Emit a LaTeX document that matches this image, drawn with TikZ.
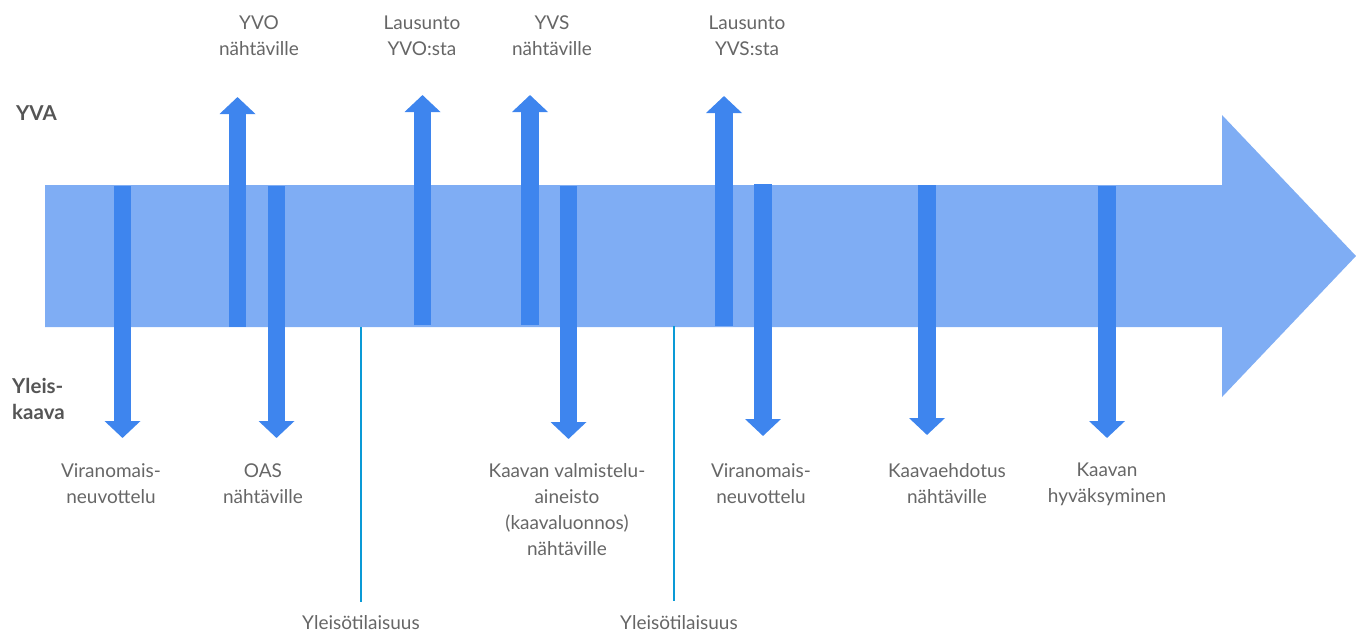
\documentclass[tikz,border=0pt]{standalone}
\usepackage{fontspec}
\setmainfont{Lato}
\usetikzlibrary{arrows.meta}
\definecolor{bodyblue}{HTML}{7FADF4}
\definecolor{arrowblue}{HTML}{3E85EE}
\definecolor{lineblue}{HTML}{0A9AD6}
\definecolor{txt}{HTML}{666666}
\definecolor{sidetxt}{HTML}{555555}
\begin{document}
\begin{tikzpicture}[x=1pt,y=-1pt,
  evt/.style={draw=arrowblue, line width=17.5pt, -{Triangle[width=35pt,length=17pt]}},
  meet/.style={draw=lineblue, line width=2.6pt},
  lbl/.style={text=txt, font=\fontsize{19}{26}\selectfont, align=center, inner sep=0pt},
  side/.style={text=sidetxt, font=\fontsize{20.5}{26}\selectfont\bfseries, align=left, inner sep=0pt, anchor=west}]
\useasboundingbox (0,0) rectangle (1356,633);
% main timeline arrow
\fill[bodyblue] (45,185) -- (1222,185) -- (1222,115) -- (1356,256) -- (1222,397) -- (1222,327) -- (45,327) -- cycle;
% side labels
\node[side] (yva) at (16,113) {YVA};
\node[side] (yk) at (12,399) {Yleis-\\kaava};
% up arrows (YVA)
\coordinate (u1s) at (237.5,327); \coordinate (u1e) at (237.5,97);
\coordinate (u2s) at (422.5,325); \coordinate (u2e) at (422.5,95);
\coordinate (u3s) at (530,325);   \coordinate (u3e) at (530,95);
\coordinate (u4s) at (724,326);   \coordinate (u4e) at (724,96);
\foreach \i in {1,...,4} {\draw[evt] (u\i s) -- (u\i e);}
% down arrows (Yleiskaava)
\coordinate (d1s) at (122.5,186); \coordinate (d1e) at (122.5,438);
\coordinate (d2s) at (276.5,186); \coordinate (d2e) at (276.5,438);
\coordinate (d3s) at (568.5,186); \coordinate (d3e) at (568.5,439);
\coordinate (d4s) at (763,184);   \coordinate (d4e) at (763,436);
\coordinate (d5s) at (927,185);   \coordinate (d5e) at (927,435);
\coordinate (d6s) at (1107,186);  \coordinate (d6e) at (1107,438);
\foreach \i in {1,...,6} {\draw[evt] (d\i s) -- (d\i e);}
% public events
\coordinate (m1s) at (361,327); \coordinate (m1e) at (361,602);
\coordinate (m2s) at (674,326); \coordinate (m2e) at (674,601);
\draw[meet] (m1s) -- (m1e);
\draw[meet] (m2s) -- (m2e);
% top labels
\node[lbl] (t1) at (259,36) {YVO\\nähtäville};
\node[lbl] (t2) at (422,36) {Lausunto\\YVO:sta};
\node[lbl] (t3) at (552,36) {YVS\\nähtäville};
\node[lbl] (t4) at (747,36) {Lausunto\\YVS:sta};
% bottom labels
\node[lbl] (b1) at (111,484) {Viranomais-\\neuvottelu};
\node[lbl] (b2) at (263,484) {OAS\\nähtäville};
\node[lbl] (b3) at (567,510) {Kaavan valmistelu-\\aineisto\\(kaavaluonnos)\\nähtäville};
\node[lbl] (b4) at (761,484) {Viranomais-\\neuvottelu};
\node[lbl] (b5) at (947,484) {Kaavaehdotus\\nähtäville};
\node[lbl] (b6) at (1107,484) {Kaavan\\hyväksyminen};
\node[lbl] (y1) at (361,623) {Yleisötilaisuus};
\node[lbl] (y2) at (679,623) {Yleisötilaisuus};
\end{tikzpicture}
\end{document}
